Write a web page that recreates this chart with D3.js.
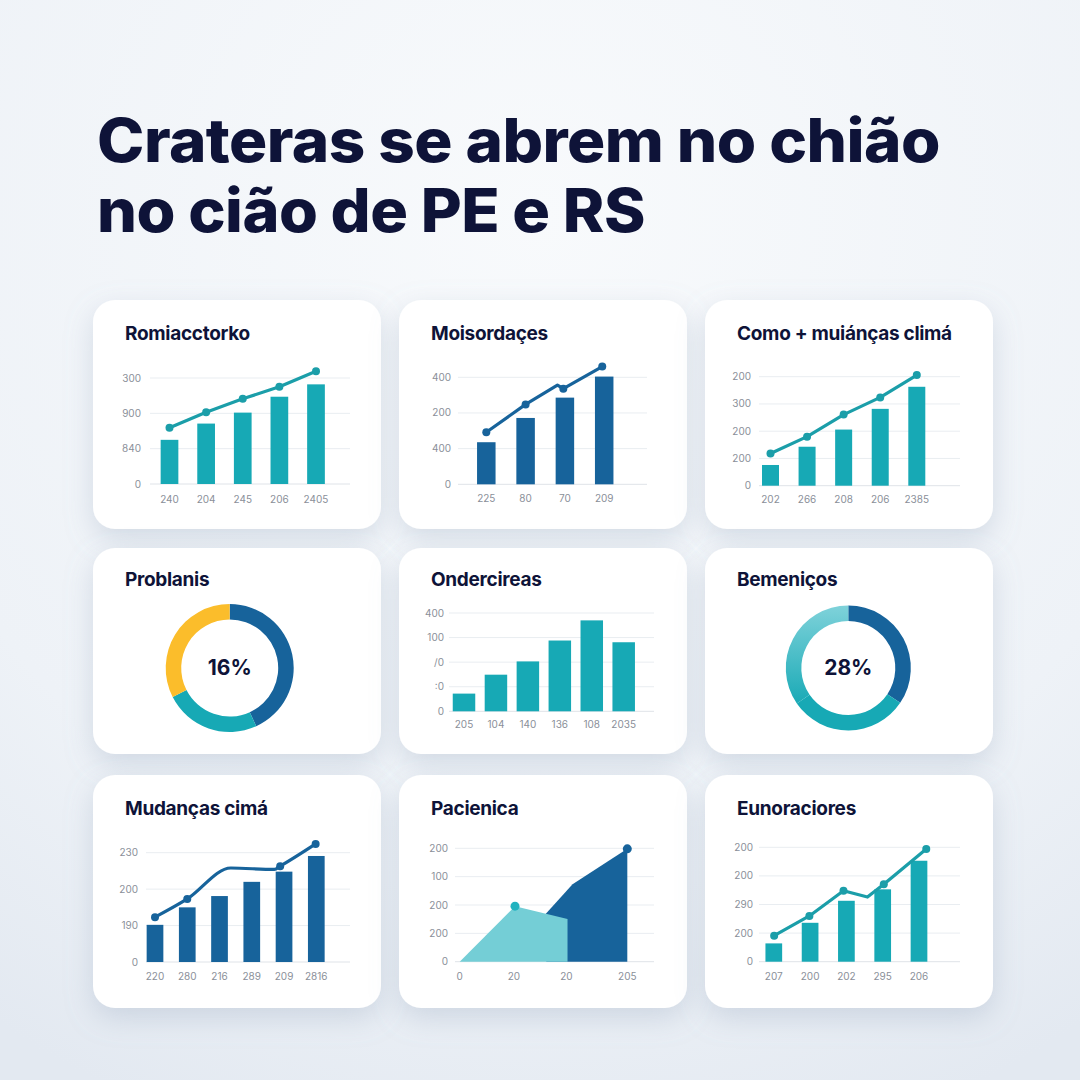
<!DOCTYPE html>
<html><head><meta charset="utf-8">
<script src="https://cdn.jsdelivr.net/npm/d3@7"></script>
<style>
html,body{margin:0;padding:0;background:#f3f6fa;}
svg{display:block;}
</style></head>
<body>
<svg id="c" width="1080" height="1080"></svg>
<script>
// ---------- DATA ----------
const titleLines = ["Crateras se abrem no chião", "no cião de PE e RS"];
const panelTitles = ["Romiacctorko","Moisordaçes","Como + muiánças climá","Problanis","Ondercireas","Bemeniços","Mudanças cimá","Pacienica","Eunoraciores"];

// Panel 1
const p1XLabels = ["240","204","245","206","2405"];
const p1YLabels = ["0","840","900","300"];
const p1Bars = [1.25,1.71,2.02,2.47,2.82];
const p1Line = [1.59,2.03,2.41,2.75,3.19];
// Panel 2
const p2XLabels = ["225","80","70","209"];
const p2YLabels = ["0","400","200","400"];
const p2Bars = [1.18,1.86,2.43,3.02];
const p2LineX = [0,1,1.81,1.96,2.95];
const p2LineY = [1.46,2.24,2.78,2.68,3.30];
const p2LineDot = [true,true,false,true,true];
// Panel 3
const p3XLabels = ["202","266","208","206","2385"];
const p3YLabels = ["0","200","200","300","200"];
const p3Bars = [0.76,1.43,2.06,2.82,3.63];
const p3Line = [1.18,1.80,2.61,3.24,4.06];
// Panel 4 donut
const p4Values = [43.2,24.3,32.5];
const p4Label = "16%";
// Panel 5
const p5XLabels = ["205","104","140","136","108","2035"];
const p5YLabels = ["0",":0","/0","100","400"];
const p5Bars = [0.72,1.49,2.03,2.88,3.70,2.81];
// Panel 6 donut
const p6Values = [34.4,31.0,34.6];
const p6Label = "28%";
// Panel 7
const p7XLabels = ["220","280","216","289","209","2816"];
const p7YLabels = ["0","190","200","230"];
const p7Bars = [1.02,1.50,1.81,2.20,2.48,2.91];
const p7LineX = [0,1,2.35,3.7,3.88,4.98];
const p7LineY = [1.23,1.73,2.58,2.54,2.63,3.24];
const p7LineDot = [true,true,false,false,true,true];
// Panel 8 area
const p8XLabels = ["0","20","20","205"];
const p8XTickPos = [0,0.97,1.91,3];
const p8YLabels = ["0","200","200","100","200"];
const p8LightX = [0,0.99,1.93];
const p8LightY = [0,1.96,1.51];
const p8DarkX = [1.55,2.02,3];
const p8DarkY = [1.71,2.73,3.98];
// Panel 9
const p9XLabels = ["207","200","202","295","206"];
const p9YLabels = ["0","200","290","200","200"];
const p9Bars = [0.64,1.36,2.13,2.53,3.53];
const p9LineX = [0.01,0.98,1.92,2.58,3.03,4.2];
const p9LineY = [0.91,1.60,2.48,2.26,2.71,3.94];
const p9LineDot = [true,true,true,false,true,true];

// ---------- STYLE ----------
const C = {teal:"#17a9b5", tealLine:"#1b9ea9", blue:"#17639b", light:"#74ced6", yellow:"#fbbd2b",
  ink:"#0e1338", grid:"#e9edf1", tick:"#8a8f99"};
const FONT = "Inter, 'Noto Sans', sans-serif";

const svg = d3.select("#c");
const defs = svg.append("defs");
const bg = defs.append("radialGradient").attr("id","bg").attr("cx","50%").attr("cy","20%").attr("r","90%");
bg.append("stop").attr("offset","0%").attr("stop-color","#f8fafc");
bg.append("stop").attr("offset","70%").attr("stop-color","#eef2f7");
bg.append("stop").attr("offset","100%").attr("stop-color","#e3e9f1");
svg.append("rect").attr("width",1080).attr("height",1080).attr("fill","url(#bg)");

const sh = defs.append("filter").attr("id","sh").attr("x","-20%").attr("y","-20%").attr("width","140%").attr("height","150%");
sh.append("feDropShadow").attr("dx",0).attr("dy",10).attr("stdDeviation",14).attr("flood-color","#8a9cb6").attr("flood-opacity",0.3);

const dg = defs.append("linearGradient").attr("id","dg").attr("x1","0%").attr("y1","100%").attr("x2","0%").attr("y2","0%");
dg.append("stop").attr("offset","0%").attr("stop-color","#1aaab6");
dg.append("stop").attr("offset","100%").attr("stop-color","#7fd2da");

// Title
titleLines.forEach((t,i)=>{
  const el = svg.append("text").attr("x",97).attr("y",162+i*70)
    .attr("font-family",FONT).attr("font-weight",800).attr("font-size",60)
    .attr("fill",C.ink).attr("letter-spacing",-0.5).text(t);
  const target = i===0 ? 843 : 548;
  el.attr("textLength",target).attr("lengthAdjust","spacingAndGlyphs");
});

// Cards
const colX = [93,399,705], cardW = 288;
const rowY = [[300,229],[548,206],[775,233]];
panelTitles.forEach((t,i)=>{
  const c = i%3, r = Math.floor(i/3);
  svg.append("rect").attr("x",colX[c]).attr("y",rowY[r][0]).attr("width",cardW).attr("height",rowY[r][1])
    .attr("rx",22).attr("fill","#ffffff").attr("filter","url(#sh)");
  const ty = [340,586,815][r];
  svg.append("text").attr("x",colX[c]+32).attr("y",ty).attr("font-family",FONT).attr("font-weight",700)
    .attr("font-size",19).attr("fill",C.ink).attr("letter-spacing",-0.3).text(t);
});

function axes(g, o){
  const y = d3.scaleLinear().domain([0,o.yLabels.length-1]).range([o.base,o.top]);
  const ticks = d3.range(o.yLabels.length);
  g.selectAll(null).data(ticks).join("line")
    .attr("x1",o.gx0).attr("x2",o.gx1).attr("y1",d=>y(d)).attr("y2",d=>y(d))
    .attr("stroke",d=>d===0?"#dfe3e8":C.grid).attr("stroke-width",1);
  g.selectAll(null).data(ticks).join("text")
    .attr("x",o.lx).attr("y",d=>y(d)).attr("dy","0.35em").attr("text-anchor","end")
    .attr("font-family",FONT).attr("font-size",10).attr("fill",C.tick).text(d=>o.yLabels[d]);
  return y;
}

function barPanel(o){
  const g = svg.append("g");
  const y = axes(g,o);
  const n = o.bars.length;
  const x = d3.scaleLinear().domain([0,n-1]).range([o.c0,o.c1]);
  g.selectAll(null).data(o.bars).join("rect")
    .attr("x",(d,i)=>x(i)-o.bw/2).attr("width",o.bw)
    .attr("y",d=>y(d)).attr("height",d=>y(0)-y(d)).attr("fill",o.color);
  g.selectAll(null).data(o.xLabels).join("text")
    .attr("x",(d,i)=>x(i)).attr("y",o.xly).attr("dy","0.35em").attr("text-anchor","middle")
    .attr("font-family",FONT).attr("font-size",10).attr("fill",C.tick).text(d=>d);
  if(o.lineY){
    const lx = o.lineX || o.lineY.map((d,i)=>i);
    const pts = o.lineY.map((v,i)=>({x:lx[i],y:v,dot:o.lineDot?o.lineDot[i]:true}));
    const line = d3.line().x(d=>x(d.x)).y(d=>y(d.y)).curve(o.curve||d3.curveLinear);
    g.append("path").datum(pts).attr("d",line).attr("fill","none").attr("stroke",o.lineColor)
      .attr("stroke-width",3.2).attr("stroke-linejoin","round").attr("stroke-linecap","round");
    g.selectAll(null).data(pts.filter(d=>d.dot)).join("circle")
      .attr("cx",d=>x(d.x)).attr("cy",d=>y(d.y)).attr("r",4).attr("fill",o.lineColor);
  }
}

barPanel({xLabels:p1XLabels,yLabels:p1YLabels,bars:p1Bars,lineY:p1Line,base:484,top:378,gx0:150,gx1:350,lx:141,
  c0:169.5,c1:316,bw:17.7,xly:499,color:C.teal,lineColor:C.tealLine});
barPanel({xLabels:p2XLabels,yLabels:p2YLabels,bars:p2Bars,lineX:p2LineX,lineY:p2LineY,lineDot:p2LineDot,base:484.3,top:377.3,gx0:458,gx1:647,lx:451,
  c0:486.3,c1:604.2,bw:18.5,xly:498,color:C.blue,lineColor:C.blue});
barPanel({xLabels:p3XLabels,yLabels:p3YLabels,bars:p3Bars,lineY:p3Line,base:485.7,top:376.7,gx0:759,gx1:960,lx:751,
  c0:770.5,c1:916.8,bw:17,xly:499,color:C.teal,lineColor:C.tealLine});
barPanel({xLabels:p5XLabels,yLabels:p5YLabels,bars:p5Bars,base:711.3,top:613,gx0:449,gx1:654,lx:444,
  c0:464,c1:623.7,bw:22.5,xly:724,color:C.teal});
barPanel({xLabels:p7XLabels,yLabels:p7YLabels,bars:p7Bars,lineX:p7LineX,lineY:p7LineY,lineDot:p7LineDot,base:962,top:852.7,gx0:146,gx1:350,lx:138,
  c0:155,c1:316.3,bw:16.7,xly:976,color:C.blue,lineColor:C.blue,curve:d3.curveMonotoneX});
barPanel({xLabels:p9XLabels,yLabels:p9YLabels,bars:p9Bars,lineX:p9LineX,lineY:p9LineY,lineDot:p9LineDot,base:961.7,top:847.3,gx0:759,gx1:960,lx:753,
  c0:773.8,c1:919,bw:16.7,xly:976,color:C.teal,lineColor:C.tealLine});

// Panel 8 area
(function(){
  const g = svg.append("g");
  const o = {yLabels:p8YLabels,base:961.7,top:848.3,gx0:455,gx1:654,lx:448};
  const y = axes(g,o);
  const x = d3.scaleLinear().domain([0,3]).range([459.7,627.3]);
  const area = d3.area().x(d=>x(d[0])).y0(y(0)).y1(d=>y(d[1]));
  const dark = p8DarkX.map((v,i)=>[v,p8DarkY[i]]);
  const light = p8LightX.map((v,i)=>[v,p8LightY[i]]);
  g.append("path").datum(dark).attr("d",area).attr("fill",C.blue);
  g.append("path").datum(light).attr("d",area).attr("fill",C.light);
  g.append("circle").attr("cx",x(light[1][0])).attr("cy",y(light[1][1])).attr("r",4.5).attr("fill","#22b3bf");
  g.append("circle").attr("cx",x(dark[2][0])).attr("cy",y(dark[2][1])).attr("r",4.5).attr("fill",C.blue);
  g.selectAll(null).data(p8XLabels).join("text")
    .attr("x",(d,i)=>x(p8XTickPos[i])).attr("y",976.7).attr("dy","0.35em").attr("text-anchor","middle")
    .attr("font-family",FONT).attr("font-size",10).attr("fill",C.tick).text(d=>d);
})();

// Donuts
function donut(cx,cy,ro,ri,vals,cols,label){
  const g = svg.append("g").attr("transform",`translate(${cx},${cy})`);
  const pie = d3.pie().sort(null).value(d=>d);
  const arc = d3.arc().innerRadius(ri).outerRadius(ro);
  g.selectAll(null).data(pie(vals)).join("path").attr("d",arc).attr("fill",(d,i)=>cols[i]);
  g.append("text").attr("text-anchor","middle").attr("dy","0.35em").attr("font-family",FONT)
    .attr("font-weight",700).attr("font-size",21).attr("fill",C.ink).text(label);
}
donut(229.7,668,64,48.5,p4Values,[C.blue,C.teal,C.yellow],p4Label);
donut(848.3,668,62.5,47,p6Values,[C.blue,C.teal,"url(#dg)"],p6Label);
</script>
</body></html>
